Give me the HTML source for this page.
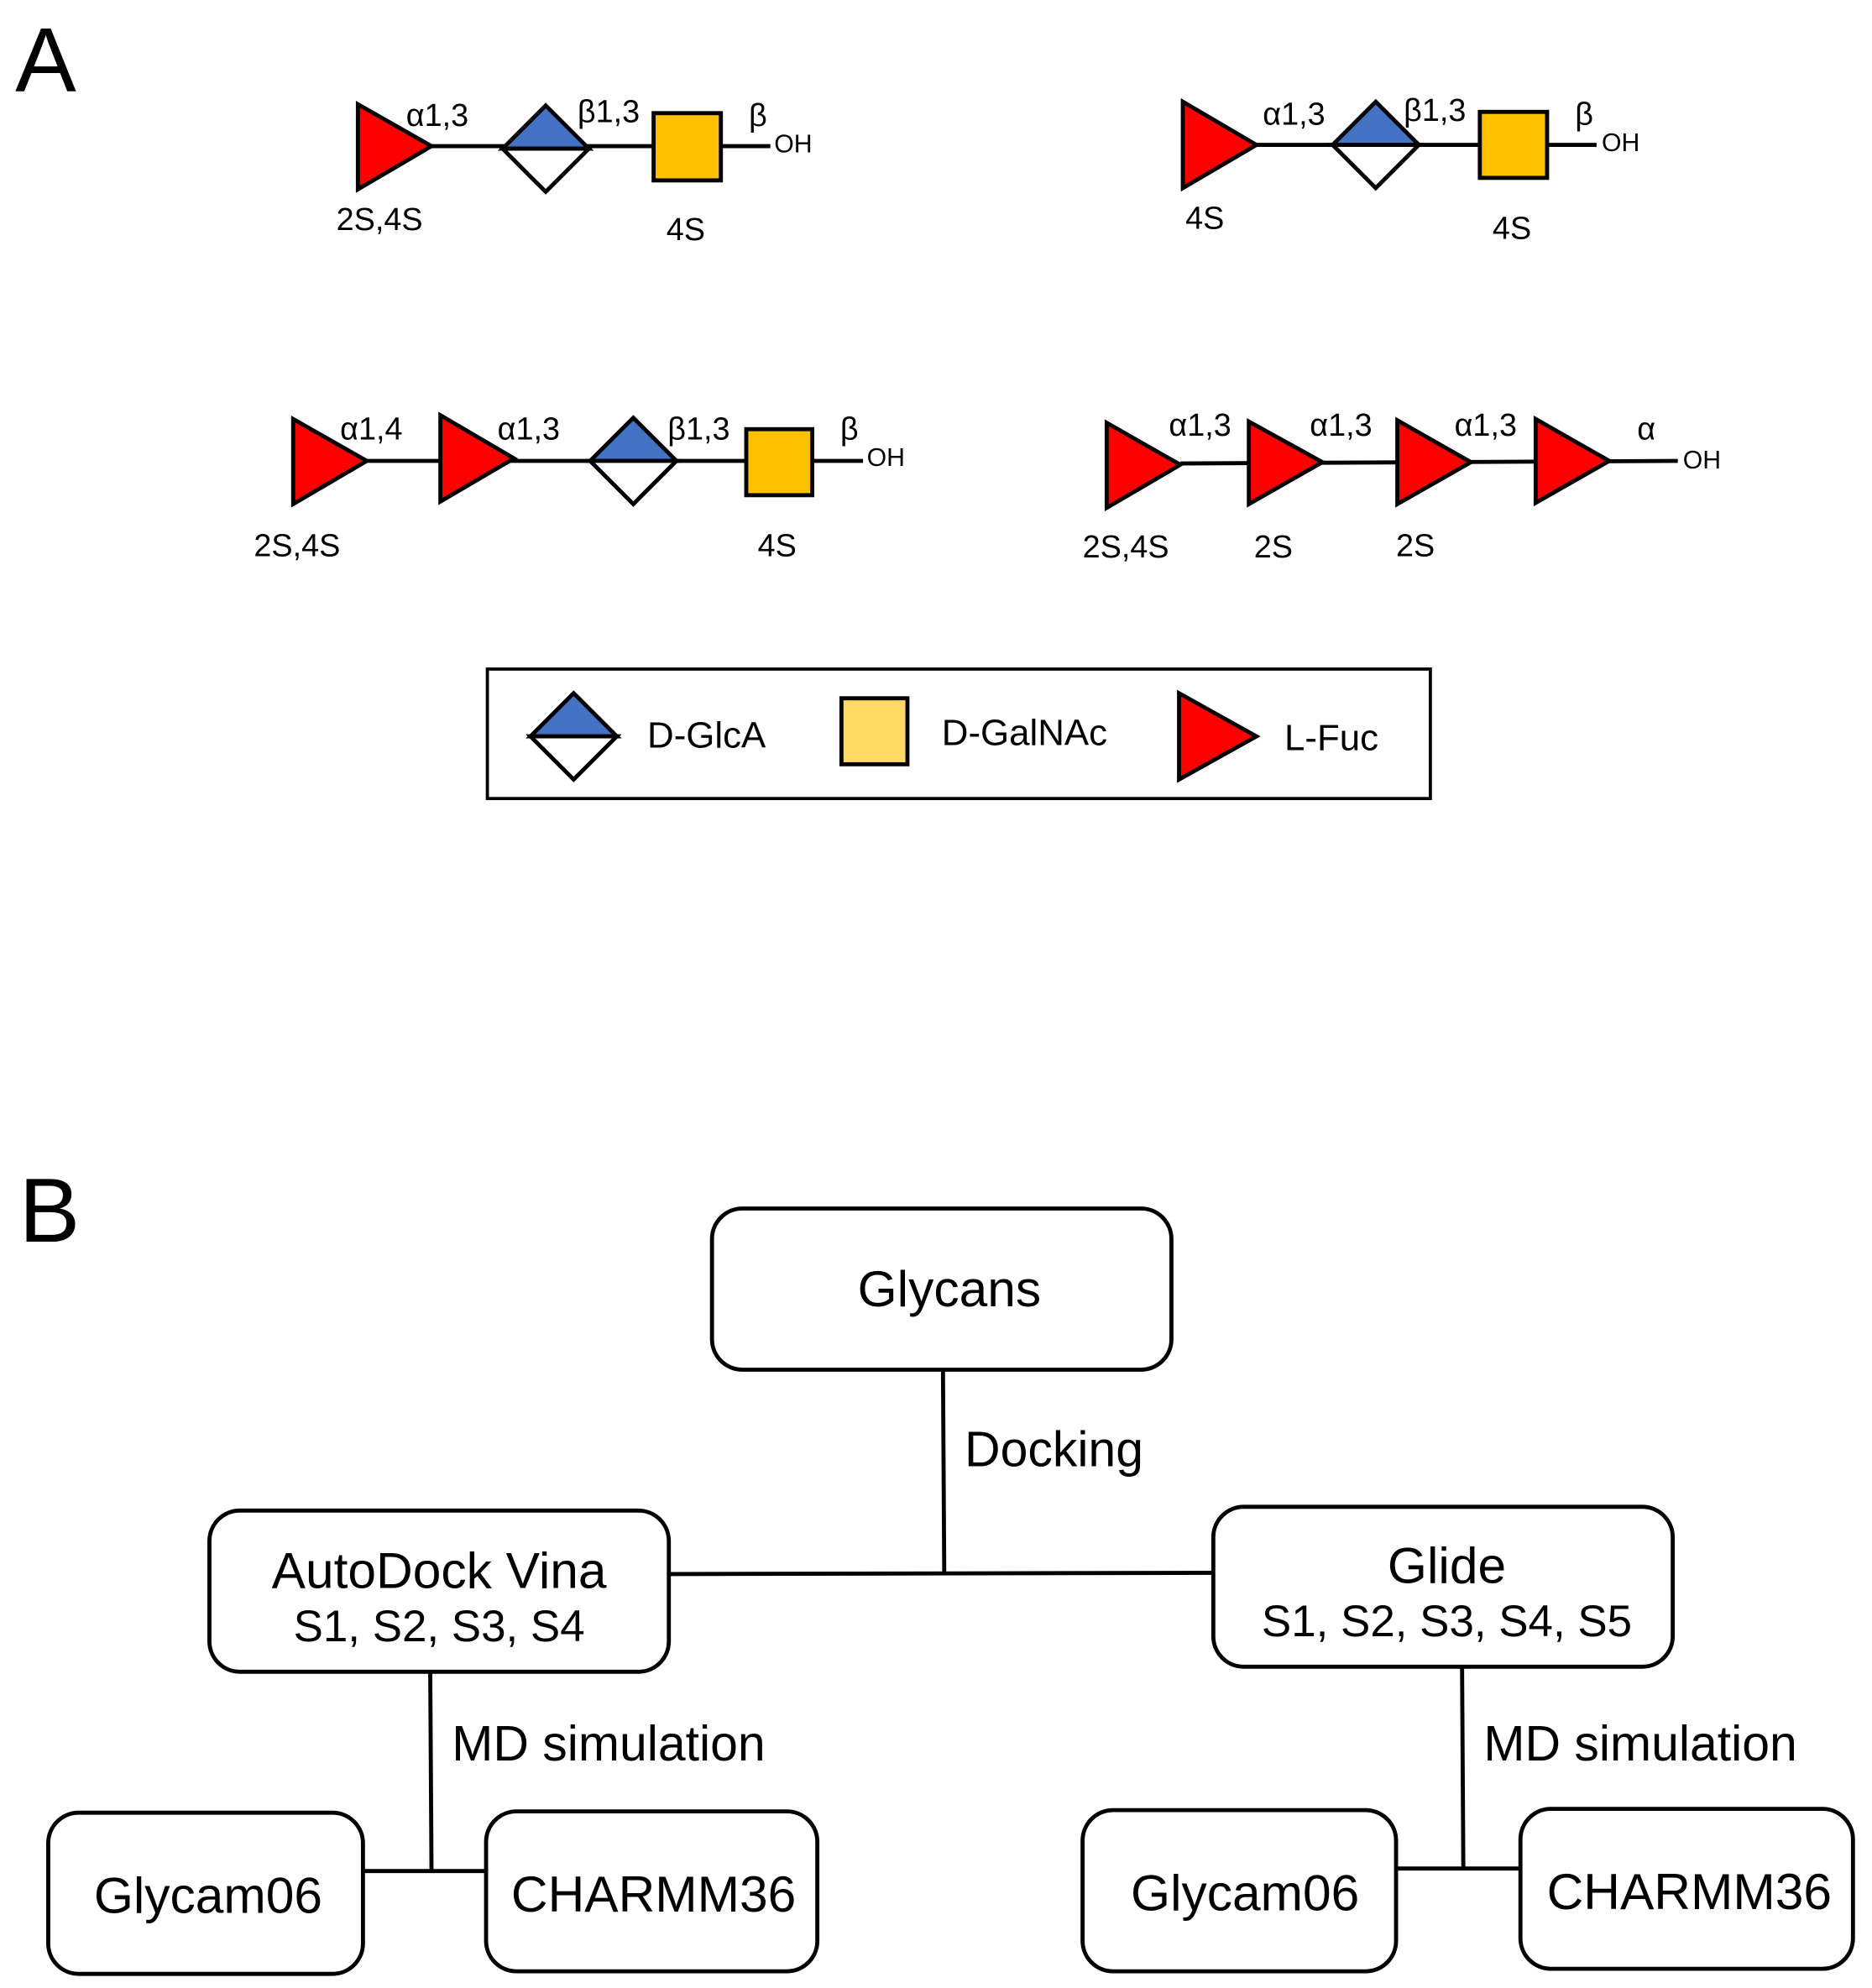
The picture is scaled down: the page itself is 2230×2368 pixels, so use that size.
<!DOCTYPE html>
<html><head><meta charset="utf-8"><style>html,body{margin:0;padding:0;background:#fff}svg{display:block}</style></head>
<body>
<svg xmlns="http://www.w3.org/2000/svg" width="2230" height="2368" viewBox="0 0 1475 1566">
<rect width="1475" height="1566" fill="#fff"/>
<g font-family="Liberation Sans, sans-serif" fill="#000">
<text x="12" y="72" font-size="72">A</text>
<text x="15" y="978" font-size="72">B</text>
</g>
<g stroke="#000" stroke-width="3.2" stroke-linejoin="miter">
<line x1="340" y1="115" x2="607" y2="115"/>
<polygon points="282,82 340,115 282,149" fill="#FF0000"/>
<polygon points="396,117 430,83 464,117" fill="#4472C4"/>
<polygon points="396,117 430,151 464,117" fill="#fff"/>
<rect x="515" y="89" width="53" height="53" fill="#FFC000"/>
<line x1="990" y1="114" x2="1258" y2="114"/>
<polygon points="932,80 990,114 932,148" fill="#FF0000"/>
<polygon points="1050,114 1084,80 1118,114" fill="#4472C4"/>
<polygon points="1050,114 1084,148 1118,114" fill="#fff"/>
<rect x="1166" y="88" width="53" height="52" fill="#FFC000"/>
<line x1="289" y1="363" x2="680" y2="363"/>
<polygon points="231,330 289,363 231,397" fill="#FF0000"/>
<polygon points="347,327 405,361 347,395" fill="#FF0000"/>
<polygon points="465,363 499,329 533,363" fill="#4472C4"/>
<polygon points="465,363 499,397 533,363" fill="#fff"/>
<rect x="588" y="338" width="52" height="52" fill="#FFC000"/>
<line x1="930" y1="365" x2="1322" y2="363"/>
<polygon points="872,333 930,366 872,400" fill="#FF0000"/>
<polygon points="984,332 1042,364 984,397" fill="#FF0000"/>
<polygon points="1101,331 1159,364 1101,397" fill="#FF0000"/>
<polygon points="1210,330 1268,363 1210,396" fill="#FF0000"/>
<rect x="384" y="527" width="743" height="102" fill="none" stroke-width="2.5"/>
<polygon points="418,580 452,546 486,580" fill="#4472C4"/>
<polygon points="418,580 452,614 486,580" fill="#fff"/>
<rect x="663" y="550" width="52" height="52" fill="#FFD966"/>
<polygon points="929,546 990,580 929,614" fill="#FF0000"/>
</g>
<g font-family="Liberation Sans Narrow, Liberation Sans, sans-serif" font-size="25" fill="#000">
<text x="320" y="99">α1,3</text><text x="455" y="96">β1,3</text><text x="590" y="99">β</text>
<text x="610" y="120" font-size="20">OH</text>
<text x="265" y="181">2S,4S</text><text x="525" y="189">4S</text>
<text x="995" y="98">α1,3</text><text x="1106" y="95">β1,3</text><text x="1241" y="98">β</text>
<text x="1262" y="119" font-size="20">OH</text>
<text x="934" y="180">4S</text><text x="1176" y="188">4S</text>
<text x="268" y="346">α1,4</text><text x="392" y="346">α1,3</text><text x="526" y="346">β1,3</text><text x="662" y="346">β</text>
<text x="683" y="367" font-size="20">OH</text>
<text x="200" y="438">2S,4S</text><text x="597" y="438">4S</text>
<text x="921" y="343">α1,3</text><text x="1032" y="343">α1,3</text><text x="1146" y="343">α1,3</text><text x="1290" y="346">α</text>
<text x="1326" y="369" font-size="20">OH</text>
<text x="853" y="439">2S,4S</text><text x="988" y="439">2S</text><text x="1100" y="438">2S</text>
</g>
<g font-family="Liberation Sans, sans-serif" font-size="29" fill="#000">
<text x="510" y="589">D-GlcA</text><text x="742" y="587">D-GalNAc</text><text x="1012" y="591">L-Fuc</text>
</g>
<g stroke="#000" stroke-width="3.2" fill="#fff">
<line x1="743" y1="1079" x2="744" y2="1240"/>
<line x1="528" y1="1240" x2="956" y2="1239"/>
<line x1="339" y1="1317" x2="340" y2="1474"/>
<line x1="286" y1="1474" x2="383" y2="1474"/>
<line x1="1152" y1="1313" x2="1153" y2="1472"/>
<line x1="1100" y1="1472" x2="1198" y2="1472"/>
<rect x="561" y="952" width="362" height="127" rx="24"/>
<rect x="165" y="1190" width="362" height="127" rx="24"/>
<rect x="956" y="1187" width="362" height="126" rx="24"/>
<rect x="38" y="1428" width="248" height="127" rx="24"/>
<rect x="383" y="1427" width="261" height="126" rx="24"/>
<rect x="853" y="1426" width="247" height="127" rx="24"/>
<rect x="1198" y="1425" width="262" height="126" rx="24"/>
</g>
<g font-family="Liberation Sans, sans-serif" fill="#000" text-anchor="middle" font-size="40">
<text x="748" y="1029">Glycans</text>
<text x="346" y="1251">AutoDock Vina</text>
<text x="346" y="1293" font-size="35">S1, S2, S3, S4</text>
<text x="1140" y="1247">Glide</text>
<text x="1140" y="1289" font-size="35">S1, S2, S3, S4, S5</text>
<text x="164" y="1507">Glycam06</text>
<text x="515" y="1506">CHARMM36</text>
<text x="981" y="1505">Glycam06</text>
<text x="1331" y="1504">CHARMM36</text>
</g>
<g font-family="Liberation Sans, sans-serif" fill="#000" font-size="39">
<text x="760" y="1155">Docking</text>
<text x="356" y="1387">MD simulation</text>
<text x="1169" y="1387">MD simulation</text>
</g>
</svg>
</body></html>
